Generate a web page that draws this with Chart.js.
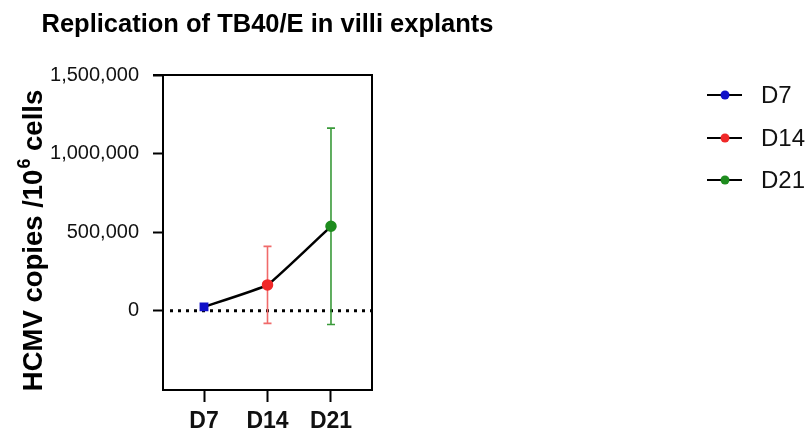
<!DOCTYPE html>
<html>
<head>
<meta charset="utf-8">
<script src="https://cdn.jsdelivr.net/npm/chart.js@4.4.1/dist/chart.umd.min.js"></script>
<style>
  html, body { margin: 0; padding: 0; background: #fff; }
  #wrap { width: 808px; height: 432px; position: relative; }
</style>
</head>
<body>
<div id="wrap"><canvas id="myChart"></canvas></div>
<script>
// data
const days = ['D7', 'D14', 'D21'];
const dayPos = [1, 2, 3];
const meanCopies = [24000, 164000, 537000];
const sdCopies = [12000, 245000, 625000];
const pointColors = ['#1010c8', '#f02828', '#1e8c1e'];
const errColors = ['#1010c8', '#f06a6a', '#3a9a3a'];
const yTicks = [0, 500000, 1000000, 1500000];

const FONT = '"Liberation Sans", Arial, sans-serif';

const extras = {
  id: 'extras',
  beforeDatasetsDraw(chart) {
    const { ctx, chartArea } = chart;
    const xs = chart.scales.x, ys = chart.scales.y;
    ctx.save();
    // dotted zero line
    ctx.strokeStyle = '#000';
    ctx.lineWidth = 3;
    ctx.setLineDash([3, 5]);
    const y0 = ys.getPixelForValue(0);
    ctx.beginPath();
    ctx.moveTo(chartArea.left + 7, y0);
    ctx.lineTo(chartArea.right, y0);
    ctx.stroke();
    ctx.setLineDash([]);
    // error bars
    ctx.lineWidth = 1.6;
    days.forEach((d, i) => {
      const x = xs.getPixelForValue(dayPos[i]);
      const top = ys.getPixelForValue(meanCopies[i] + sdCopies[i]);
      const bot = ys.getPixelForValue(meanCopies[i] - sdCopies[i]);
      ctx.strokeStyle = errColors[i];
      ctx.beginPath();
      ctx.moveTo(x, top); ctx.lineTo(x, bot);
      ctx.moveTo(x - 4, top); ctx.lineTo(x + 4, top);
      ctx.moveTo(x - 4, bot); ctx.lineTo(x + 4, bot);
      ctx.stroke();
    });
    ctx.restore();
  },
  afterDraw(chart) {
    const { ctx, chartArea } = chart;
    ctx.save();
    // frame top and right
    ctx.strokeStyle = '#000';
    ctx.lineWidth = 2;
    ctx.beginPath();
    ctx.moveTo(chartArea.left - 10, chartArea.top);
    ctx.lineTo(chartArea.right, chartArea.top);
    ctx.lineTo(chartArea.right, chartArea.bottom);
    ctx.stroke();

    // title
    ctx.fillStyle = '#000';
    ctx.font = 'bold 25.5px ' + FONT;
    ctx.textAlign = 'center';
    ctx.textBaseline = 'alphabetic';
    ctx.fillText('Replication of TB40/E in villi explants', (chartArea.left + chartArea.right) / 2, 32);

    // y axis title with superscript
    ctx.translate(42, 241);
    ctx.rotate(-Math.PI / 2);
    const big = 'bold 27.5px ' + FONT, small = 'bold 18px ' + FONT;
    const p1 = 'HCMV copies /10', p2 = '6', p3 = ' cells';
    ctx.font = big; const w1 = ctx.measureText(p1).width, w3 = ctx.measureText(p3).width;
    ctx.font = small; const w2 = ctx.measureText(p2).width;
    let x = -(w1 + w2 + w3) / 2;
    ctx.textAlign = 'left';
    ctx.font = big; ctx.fillText(p1, x, 0); x += w1;
    ctx.font = small; ctx.fillText(p2, x + 1, -12); x += w2 + 1;
    ctx.font = big; ctx.fillText(p3, x, 0);
    ctx.setTransform(1, 0, 0, 1, 0, 0);

    // legend
    const legY = [95, 138, 180];
    days.forEach((d, i) => {
      ctx.strokeStyle = '#000';
      ctx.lineWidth = 2;
      ctx.beginPath();
      ctx.moveTo(707, legY[i]); ctx.lineTo(742, legY[i]);
      ctx.stroke();
      ctx.fillStyle = pointColors[i];
      ctx.beginPath();
      ctx.arc(725, legY[i], 4.5, 0, Math.PI * 2);
      ctx.fill();
      ctx.fillStyle = '#111';
      ctx.font = '24px ' + FONT;
      ctx.textAlign = 'left';
      ctx.textBaseline = 'middle';
      ctx.fillText(d, 761, legY[i] + 1);
    });
    ctx.restore();
  }
};

new Chart(document.getElementById('myChart'), {
  type: 'line',
  data: {
    datasets: [{
      data: dayPos.map((p, i) => ({ x: p, y: meanCopies[i] })),
      borderColor: '#000',
      borderWidth: 2.5,
      tension: 0.1,
      pointRadius: 4.5,
      pointStyle: ['rect', 'circle', 'circle'],
      pointBackgroundColor: pointColors,
      pointBorderColor: pointColors,
      fill: false
    }]
  },
  options: {
    responsive: true,
    maintainAspectRatio: false,
    animation: false,
    layout: { padding: { left: 0, top: 75, right: 436, bottom: 0 } },
    plugins: { legend: { display: false }, title: { display: false }, tooltip: { enabled: false } },
    scales: {
      x: {
        type: 'linear',
        min: 0.354,
        max: 3.646,
        afterBuildTicks: s => { s.ticks = dayPos.map(v => ({ value: v })); },
        afterFit: s => { s.height = 42; },
        grid: { drawOnChartArea: false, drawTicks: true, tickLength: 12, tickWidth: 2, tickColor: '#000' },
        border: { color: '#000', width: 2 },
        ticks: {
          color: '#111',
          padding: 6,
          font: { family: FONT, size: 23, weight: 'bold' },
          callback: v => days[dayPos.indexOf(v)] || ''
        }
      },
      y: {
        min: -505000,
        max: 1500000,
        afterBuildTicks: s => { s.ticks = yTicks.map(v => ({ value: v })); },
        afterFit: s => { s.width = 163; },
        grid: { drawOnChartArea: false, drawTicks: true, tickLength: 10, tickWidth: 2, tickColor: '#000' },
        border: { color: '#000', width: 2 },
        ticks: {
          color: '#111',
          padding: 14,
          font: { family: FONT, size: 20 },
          callback: v => v.toLocaleString('en-US')
        }
      }
    }
  },
  plugins: [extras]
});
</script>
</body>
</html>
